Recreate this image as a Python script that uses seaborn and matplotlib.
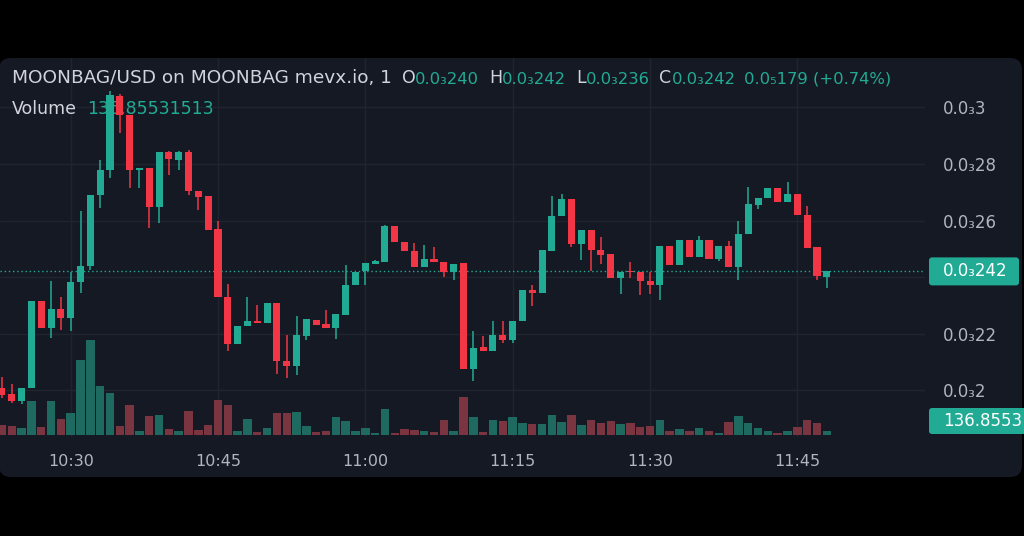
import numpy as np
import pandas as pd
import matplotlib
matplotlib.use("Agg")
import matplotlib.pyplot as plt
import seaborn as sns
from matplotlib.patches import FancyBboxPatch
from matplotlib.transforms import IdentityTransform, blended_transform_factory

# 1 minute candles, prices in units of 0.001 (shown as 0.0₃xxx)
open_ = [0.2007, 0.1986, 0.1961, 0.2007, 0.2315, 0.2219, 0.2287, 0.2255, 0.2382, 0.2439,
         0.2690, 0.2779, 0.3041, 0.2974, 0.2779, 0.2786, 0.2648, 0.2843, 0.2814, 0.2843,
         0.2704, 0.2687, 0.2570, 0.2329, 0.2163, 0.2227, 0.2244, 0.2237, 0.2308, 0.2103,
         0.2085, 0.2191, 0.2248, 0.2234, 0.2219, 0.2266, 0.2372, 0.2421, 0.2446, 0.2453,
         0.2581, 0.2524, 0.2492, 0.2435, 0.2464, 0.2453, 0.2418, 0.2450, 0.2074, 0.2152,
         0.2138, 0.2195, 0.2177, 0.2244, 0.2354, 0.2343, 0.2492, 0.2616, 0.2676, 0.2517,
         0.2566, 0.2496, 0.2481, 0.2396, 0.2421, 0.2418, 0.2386, 0.2372, 0.2510, 0.2443,
         0.2531, 0.2471, 0.2531, 0.2464, 0.2510, 0.2435, 0.2552, 0.2655, 0.2680, 0.2715,
         0.2666, 0.2694, 0.2620, 0.2506, 0.2400]
close_ = [0.1982, 0.1961, 0.2007, 0.2315, 0.2219, 0.2287, 0.2255, 0.2382, 0.2439, 0.2690,
          0.2779, 0.3044, 0.2974, 0.2779, 0.2786, 0.2648, 0.2843, 0.2818, 0.2843, 0.2704,
          0.2683, 0.2566, 0.2329, 0.2163, 0.2227, 0.2244, 0.2237, 0.2308, 0.2103, 0.2085,
          0.2195, 0.2251, 0.2230, 0.2219, 0.2269, 0.2372, 0.2418, 0.2450, 0.2457, 0.2581,
          0.2524, 0.2492, 0.2435, 0.2464, 0.2453, 0.2418, 0.2446, 0.2074, 0.2149, 0.2138,
          0.2195, 0.2177, 0.2244, 0.2354, 0.2343, 0.2496, 0.2616, 0.2676, 0.2517, 0.2566,
          0.2496, 0.2478, 0.2396, 0.2418, 0.2418, 0.2386, 0.2372, 0.2510, 0.2443, 0.2531,
          0.2471, 0.2531, 0.2464, 0.2510, 0.2435, 0.2552, 0.2658, 0.2680, 0.2715, 0.2666,
          0.2694, 0.2620, 0.2503, 0.2402, 0.2420]
high_ = [0.2046, 0.2021, 0.2007, 0.2315, 0.2315, 0.2386, 0.2329, 0.2418, 0.2634, 0.2690,
         0.2814, 0.3058, 0.3048, 0.2974, 0.2786, 0.2786, 0.2843, 0.2846, 0.2846, 0.2850,
         0.2704, 0.2687, 0.2598, 0.2375, 0.2227, 0.2329, 0.2301, 0.2308, 0.2308, 0.2195,
         0.2262, 0.2251, 0.2248, 0.2283, 0.2269, 0.2443, 0.2418, 0.2450, 0.2460, 0.2585,
         0.2581, 0.2524, 0.2520, 0.2513, 0.2506, 0.2453, 0.2446, 0.2450, 0.2209, 0.2191,
         0.2244, 0.2244, 0.2244, 0.2354, 0.2372, 0.2496, 0.2687, 0.2694, 0.2676, 0.2566,
         0.2566, 0.2542, 0.2481, 0.2418, 0.2453, 0.2418, 0.2418, 0.2510, 0.2510, 0.2531,
         0.2531, 0.2545, 0.2531, 0.2510, 0.2527, 0.2598, 0.2719, 0.2680, 0.2715, 0.2715,
         0.2736, 0.2694, 0.2651, 0.2506, 0.2420]
low_ = [0.1972, 0.1954, 0.1950, 0.2007, 0.2219, 0.2184, 0.2212, 0.2209, 0.2343, 0.2425,
        0.2644, 0.2750, 0.2910, 0.2715, 0.2715, 0.2573, 0.2591, 0.2761, 0.2779, 0.2690,
        0.2637, 0.2566, 0.2329, 0.2138, 0.2163, 0.2227, 0.2237, 0.2237, 0.2057, 0.2042,
        0.2053, 0.2177, 0.2230, 0.2219, 0.2181, 0.2266, 0.2372, 0.2372, 0.2446, 0.2453,
        0.2524, 0.2492, 0.2435, 0.2435, 0.2453, 0.2400, 0.2389, 0.2074, 0.2032, 0.2138,
        0.2138, 0.2166, 0.2166, 0.2244, 0.2297, 0.2343, 0.2492, 0.2616, 0.2506, 0.2460,
        0.2421, 0.2446, 0.2396, 0.2340, 0.2396, 0.2336, 0.2340, 0.2319, 0.2443, 0.2443,
        0.2471, 0.2471, 0.2464, 0.2457, 0.2435, 0.2389, 0.2552, 0.2641, 0.2680, 0.2666,
        0.2666, 0.2620, 0.2503, 0.2389, 0.2360]
volume = [340, 306, 238, 1156, 272, 1156, 544, 748, 2550, 3230,
          1666, 1428, 306, 1020, 136, 646, 680, 204, 136, 816,
          170, 340, 1190, 1020, 136, 544, 102, 238, 748, 748,
          782, 306, 102, 136, 612, 476, 136, 238, 68, 884,
          68, 204, 170, 136, 102, 510, 136, 1292, 612, 102,
          510, 476, 612, 408, 374, 374, 680, 442, 680, 340,
          510, 408, 476, 374, 408, 272, 306, 510, 136, 204,
          136, 238, 136, 68, 442, 646, 408, 238, 136, 68,
          136, 272, 510, 408, 136.85531513]

tick_pos = [7, 22, 37, 52, 66, 81]
tick_labels = ["10:30", "10:45", "11:00", "11:15", "11:30", "11:45"]
price_ticks = [0.20, 0.22, 0.26, 0.28, 0.30]
price_labels = ["0.0₃2", "0.0₃22", "0.0₃26", "0.0₃28", "0.0₃3"]
grid_prices = [0.20, 0.22, 0.24, 0.26, 0.28, 0.30]
title = "MOONBAG/USD on MOONBAG mevx.io, 1"
change_text = "0.0₅179 (+0.74%)"

W, H = 1024, 536
bg = "#151924"
up_col = "#22ab94"
dn_col = "#f23645"
vol_up = "#1f6a60"
vol_dn = "#7b3540"
txt_grey = "#d1d4dc"
axis_grey = "#b2b5be"
grid_col = "#20242f"

sns.set_theme(style="dark", rc={"axes.facecolor": "none", "figure.facecolor": "black"})
plt.rcParams["font.family"] = ["DejaVu Sans"]

df = pd.DataFrame({"open": open_, "high": high_, "low": low_, "close": close_, "volume": volume})
df["idx"] = np.arange(len(df))
df["dir"] = np.where(df["close"] >= df["open"], "up", "down")

fig = plt.figure(figsize=(W / 100, H / 100), dpi=100, facecolor="black")
fig.add_artist(FancyBboxPatch((-1, 59), 1023, 419, boxstyle="round,pad=0,rounding_size=12",
                              transform=IdentityTransform(), fc=bg, ec="none", zorder=-5))

rect = [0, 99 / H, 925 / W, 379 / H]
ax_v = fig.add_axes(rect)
ax = fig.add_axes(rect, sharex=ax_v)
ax.patch.set_visible(False)
ax.set_xlim(-0.2, 94.0)
ax.set_ylim(0.1834, 0.3175)

# grid (on the lower axes so the volume bars sit on top of it)
price_y = blended_transform_factory(ax_v.transAxes, ax.transData)
for p in grid_prices:
    ax_v.plot([0, 1], [p, p], color=grid_col, lw=1, transform=price_y, zorder=0)
for t in tick_pos:
    ax_v.axvline(t, color=grid_col, lw=1, zorder=0)

# volume bars
sns.barplot(data=df, x="idx", y="volume", hue="dir", palette={"up": vol_up, "down": vol_dn},
            native_scale=True, width=0.86, dodge=False, errorbar=None, saturation=1,
            legend=False, linewidth=0, edgecolor="none", ax=ax_v)
ax_v.set_ylim(-68, 12818)
ax_v.set_axis_off()

# candles
colors = np.where(df["dir"] == "up", up_col, dn_col)
body_lo = df[["open", "close"]].min(axis=1)
body_h = (df["close"] - df["open"]).abs().clip(lower=0.0004)
ax.vlines(df["idx"], df["low"], df["high"], colors=colors, lw=1.1, zorder=3)
ax.bar(df["idx"], body_h, bottom=body_lo, width=0.72, color=colors, lw=0, zorder=4)
ax.axhline(close_[-1], color=up_col, lw=1, ls=(0, (1, 2)), zorder=2)

ax.set_xlim(-0.2, 94.0)
ax.set_ylim(0.1834, 0.3175)
ax.set_yticks(price_ticks, price_labels)
ax.yaxis.tick_right()
ax.set_xticks(tick_pos, tick_labels)
ax.tick_params(axis="y", length=0, pad=13, labelsize=12, labelcolor=axis_grey)
ax.tick_params(axis="x", length=0, pad=12, labelsize=11.5, labelcolor=axis_grey)
ax.set_xlabel("")
ax.set_ylabel("")
for s in ax.spines.values():
    s.set_visible(False)

# last price / last volume tags
ypix = ax.transData.transform((0, close_[-1]))[1]
fig.add_artist(FancyBboxPatch((929, ypix - 14), 90, 28, boxstyle="round,pad=0,rounding_size=3",
                              transform=IdentityTransform(), fc=up_col, ec="none"))
fig.text(943 / W, ypix / H, "0.0₃" + f"{close_[-1]:.3f}"[2:], color="white", fontsize=12,
         va="center", ha="left")
fig.add_artist(FancyBboxPatch((929, 102), 100, 26, boxstyle="round,pad=0,rounding_size=3",
                              transform=IdentityTransform(), fc=up_col, ec="none"))
fig.text(943 / W, 115 / H, f"{volume[-1]:.4f}", color="white", fontsize=12, va="center", ha="left")


# legend lines at the top
def chain(pieces, x, y):
    s0, c0, fs0 = pieces[0]
    prev = ax.text(x / W, 1 - y / H, s0, color=c0, fontsize=fs0,
                   transform=fig.transFigure, va="baseline", ha="left", zorder=1)
    for s, c, fs, gap in pieces[1:]:
        prev = ax.annotate(s, xy=(1, 0), xycoords=prev, xytext=(gap, 0), textcoords="offset points",
                           va="bottom", ha="left", color=c, fontsize=fs, zorder=1)


def p3(v):
    return "0.0₃" + f"{v:.3f}"[2:]


chain([(title, txt_grey, 13.3),
       ("O", txt_grey, 12.5, 7), (p3(open_[-1]), up_col, 11.8, 0),
       ("H", txt_grey, 12.5, 7), (p3(high_[-1]), up_col, 11.8, 0),
       ("L", txt_grey, 12.5, 7), (p3(low_[-1]), up_col, 11.8, 0),
       ("C", txt_grey, 12.5, 7), (p3(close_[-1]), up_col, 11.8, 0),
       (change_text, up_col, 11.8, 6)], 12, 83)
chain([("Volume", txt_grey, 12.5), (f"{volume[-1]:.8f}", up_col, 12.5, 7)], 12, 114)

fig.savefig("out.png", dpi=100, facecolor="black")
